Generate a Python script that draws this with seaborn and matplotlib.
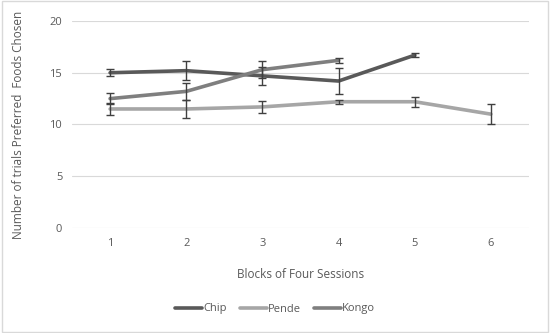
import matplotlib
matplotlib.use("Agg")
import matplotlib.pyplot as plt
import seaborn as sns
import pandas as pd
import numpy as np

blocks = [1, 2, 3, 4, 5, 6]
chip = [15.0, 15.2, 14.7, 14.2, 16.7]
chip_err = [0.35, 0.9, 0.9, 1.25, 0.22]
pende = [11.5, 11.5, 11.7, 12.2, 12.2, 11.0]
pende_err = [0.6, 0.9, 0.6, 0.2, 0.5, 1.0]
kongo = [12.5, 13.2, 15.3, 16.2]
kongo_err = [0.5, 0.8, 0.8, 0.25]
series_names = ["Chip", "Pende", "Kongo"]
colors = {"Chip": "#595959", "Pende": "#a6a6a6", "Kongo": "#7f7f7f"}

rows = []
for name, vals, errs in [("Chip", chip, chip_err), ("Pende", pende, pende_err), ("Kongo", kongo, kongo_err)]:
    for b, v, e in zip(blocks, vals, errs):
        rows.append({"Block": b, "Value": v, "Err": e, "Series": name})
df = pd.DataFrame(rows)

sns.set_theme(style="white")
plt.rcParams['font.family'] = ['Open Sans', 'DejaVu Sans']

fig = plt.figure(figsize=(5.5, 3.33), dpi=100)
ax = fig.add_axes([72/550, 1 - 228/333, (529-72)/550, (228-21)/333])

sns.lineplot(data=df, x="Block", y="Value", hue="Series", hue_order=series_names,
             palette=colors, linewidth=2.6, ax=ax, legend=True, errorbar=None)
for name in series_names:
    sub = df[df.Series == name]
    ax.errorbar(sub.Block, sub.Value, yerr=sub.Err, fmt="none", ecolor="#404040",
                elinewidth=1.0, capsize=3, capthick=1.0, zorder=5)

ax.set_xlim(0.5, 6.5)
ax.set_ylim(0, 20)
ax.set_yticks([0, 5, 10, 15, 20])
ax.set_xticks(blocks)
ax.grid(axis="y", color="#d9d9d9", linewidth=0.8)
ax.set_axisbelow(True)
for s in ax.spines.values():
    s.set_visible(False)
ax.tick_params(axis="both", length=0, labelsize=8, colors="#595959", pad=7)
ax.set_xlabel("Blocks of Four Sessions", fontsize=8.5, color="#595959")
ax.xaxis.set_label_coords(0.5, -(268 - 228) / (228 - 21), transform=ax.transAxes)
ax.set_ylabel("Number of trials Preferred  Foods Chosen", fontsize=8.5, color="#595959")
ax.yaxis.set_label_coords(-(72 - 25) / (529 - 72), 0.5, transform=ax.transAxes)

handles, labels = ax.get_legend_handles_labels()
leg = fig.legend(handles, labels, loc="center", bbox_to_anchor=(0.5, 1 - 309/333), ncol=3,
                 frameon=False, fontsize=8, handlelength=2.4, handletextpad=0.1,
                 columnspacing=1.2, labelcolor="#595959")
ax.get_legend().remove()

fig.patches.append(plt.Rectangle((0.004, 0.004), 0.992, 0.992, transform=fig.transFigure,
                                 fill=False, edgecolor="#d9d9d9", linewidth=1.0))
fig.savefig("out.png", dpi=100)
